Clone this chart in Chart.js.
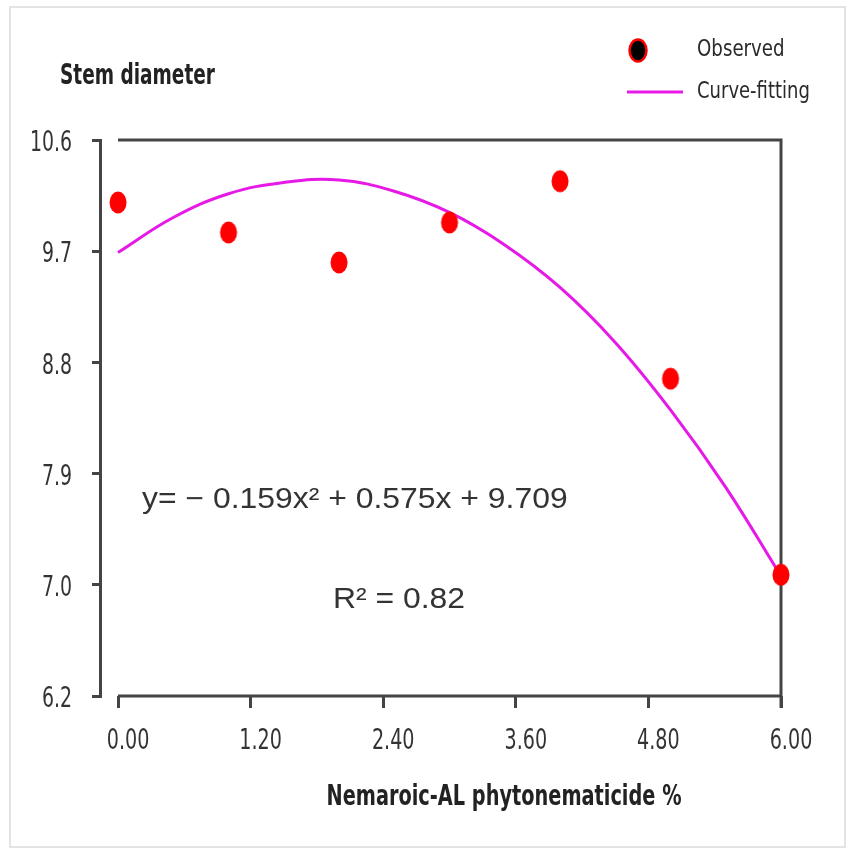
<!DOCTYPE html>
<html>
<head>
<meta charset="utf-8">
<script src="https://cdn.jsdelivr.net/npm/chart.js@4/dist/chart.umd.min.js"></script>
<style>
  body { margin: 0; background: #fff; }
  canvas { display: block; }
</style>
</head>
<body>
<canvas id="grafico" width="850" height="852"></canvas>
<script>
// values
const doses = [0, 1, 2, 3, 4, 5, 6];
const observed = [10.10, 9.86, 9.62, 9.94, 10.27, 8.69, 7.12];
const curveX = [0, 0.5, 1, 1.5, 2, 2.5, 3, 3.5, 4, 4.5, 5, 5.5, 6];
const curveY = [9.70, 9.98, 10.17, 10.26, 10.28, 10.19, 10.02, 9.76, 9.42, 8.98, 8.44, 7.82, 7.11];
const xTicks = [0, 1.2, 2.4, 3.6, 4.8, 6];
const xTickLabels = ['0.00', '1.20', '2.40', '3.60', '4.80', '6.00'];
const yTicks = [6.15, 7.04, 7.93, 8.82, 9.71, 10.6];
const yTickLabels = ['6.2', '7.0', '7.9', '8.8', '9.7', '10.6'];

const narrow = "'DejaVu Sans Condensed', 'Liberation Sans Narrow', sans-serif";
const axisColor = '#444';
const pointRed = '#ff0000';
const curveColor = '#e619e6';

// red oval marker like the original
function makeOval(fill, stroke) {
    const c = document.createElement('canvas');
    c.width = 20; c.height = 25;
    const g = c.getContext('2d');
    g.beginPath();
    g.ellipse(10, 12.5, 8.5, 11, 0, 0, Math.PI * 2);
    g.fillStyle = fill;
    g.fill();
    if (stroke) {
        g.lineWidth = 2.5;
        g.strokeStyle = stroke;
        g.stroke();
    }
    return c;
}
const redOval = makeOval(pointRed);
const legendOval = makeOval('#000', pointRed);

// text squeezed horizontally (the original uses a narrow font)
function squeezed(ctx, text, x, y, align, sx) {
    ctx.save();
    ctx.translate(x, y);
    ctx.scale(sx, 1);
    ctx.textAlign = align;
    ctx.fillText(text, 0, 0);
    ctx.restore();
}

// frame, axis line and texts
const decor = {
    id: 'decor',
    beforeDraw(chart) {
        const ctx = chart.ctx;
        ctx.save();
        ctx.fillStyle = '#fff';
        ctx.fillRect(0, 0, chart.width, chart.height);
        ctx.strokeStyle = '#e3e3e3';
        ctx.lineWidth = 2;
        ctx.strokeRect(10, 7, 835, 840);
        ctx.restore();
    },
    beforeDatasetsDraw(chart) {
        const { ctx, scales: { x, y } } = chart;
        const left = x.getPixelForValue(xTicks[0]);
        const right = x.getPixelForValue(xTicks[xTicks.length - 1]);
        const top = y.getPixelForValue(yTicks[yTicks.length - 1]);
        const bottom = y.getPixelForValue(yTicks[0]);
        ctx.save();
        ctx.strokeStyle = axisColor;
        ctx.lineWidth = 3;
        ctx.beginPath();
        ctx.moveTo(left, top);
        ctx.lineTo(right, top);
        ctx.lineTo(right, bottom + 12);
        ctx.moveTo(left, bottom);
        ctx.lineTo(right, bottom);
        ctx.stroke();
        ctx.restore();
    },
    afterDraw(chart) {
        const { ctx, scales: { x, y } } = chart;
        ctx.save();

        // tick labels
        ctx.fillStyle = '#333';
        ctx.textBaseline = 'middle';
        ctx.font = '28px ' + narrow;
        xTicks.forEach((v, i) => squeezed(ctx, xTickLabels[i], x.getPixelForValue(v) + 10, 742, 'center', 0.76));
        yTicks.forEach((v, i) => squeezed(ctx, yTickLabels[i], 72, y.getPixelForValue(v) + 4, 'right', 0.75));

        // titles
        ctx.fillStyle = '#222';
        ctx.font = 'bold 28px ' + narrow;
        squeezed(ctx, 'Stem diameter', 60, 77, 'left', 0.735);
        squeezed(ctx, 'Nemaroic-AL phytonematicide %', 504, 798, 'center', 0.767);

        // equation
        ctx.fillStyle = '#333';
        ctx.textBaseline = 'alphabetic';
        ctx.font = '29px "Liberation Sans", Arial, sans-serif';
        squeezed(ctx, 'y= \u2212 0.159x\u00b2 + 0.575x + 9.709', 142, 508, 'left', 1.1);
        squeezed(ctx, 'R\u00b2 = 0.82', 333, 608, 'left', 1.1);

        // legend
        ctx.drawImage(legendOval, 628, 38);
        ctx.strokeStyle = curveColor;
        ctx.lineWidth = 3;
        ctx.beginPath();
        ctx.moveTo(627, 92);
        ctx.lineTo(683, 92);
        ctx.stroke();
        ctx.fillStyle = '#2a2a2a';
        ctx.textBaseline = 'middle';
        ctx.font = '23px ' + narrow;
        squeezed(ctx, 'Observed', 697, 50, 'left', 0.88);
        squeezed(ctx, 'Curve-fitting', 697, 92, 'left', 0.87);
        ctx.restore();
    }
};

new Chart(document.getElementById('grafico'), {
    type: 'scatter',
    data: {
        datasets: [{
            label: 'Observed',
            data: doses.map((d, i) => ({ x: d, y: observed[i] })),
            pointStyle: redOval,
            pointRadius: 10,
            backgroundColor: pointRed,
            borderColor: pointRed,
            clip: false,
            order: 0
        }, {
            type: 'line',
            label: 'Curve-fitting',
            data: curveX.map((d, i) => ({ x: d, y: curveY[i] })),
            borderColor: curveColor,
            borderWidth: 3,
            pointRadius: 0,
            tension: 0.4,
            fill: false,
            clip: false,
            order: 1
        }]
    },
    options: {
        responsive: false,
        animation: false,
        layout: { padding: { top: 140, right: 69, left: 0, bottom: 0 } },
        plugins: {
            legend: { display: false },
            tooltip: { enabled: false }
        },
        scales: {
            x: {
                type: 'linear',
                min: -0.163,
                max: 6,
                afterBuildTicks: s => { s.ticks = xTicks.map(v => ({ value: v })); },
                afterFit: s => { s.height = 156; },
                border: { display: false },
                grid: { drawOnChartArea: false, drawTicks: true, tickLength: 12, color: axisColor, lineWidth: 3 },
                ticks: { display: false }
            },
            y: {
                min: yTicks[0],
                max: yTicks[yTicks.length - 1],
                afterBuildTicks: s => { s.ticks = yTicks.map(v => ({ value: v })); },
                afterFit: s => { s.width = 100; },
                border: { display: true, color: axisColor, width: 3 },
                grid: { drawOnChartArea: false, drawTicks: true, tickLength: 8, color: axisColor, lineWidth: 3 },
                ticks: { display: false }
            }
        }
    },
    plugins: [decor]
});
</script>
</body>
</html>
